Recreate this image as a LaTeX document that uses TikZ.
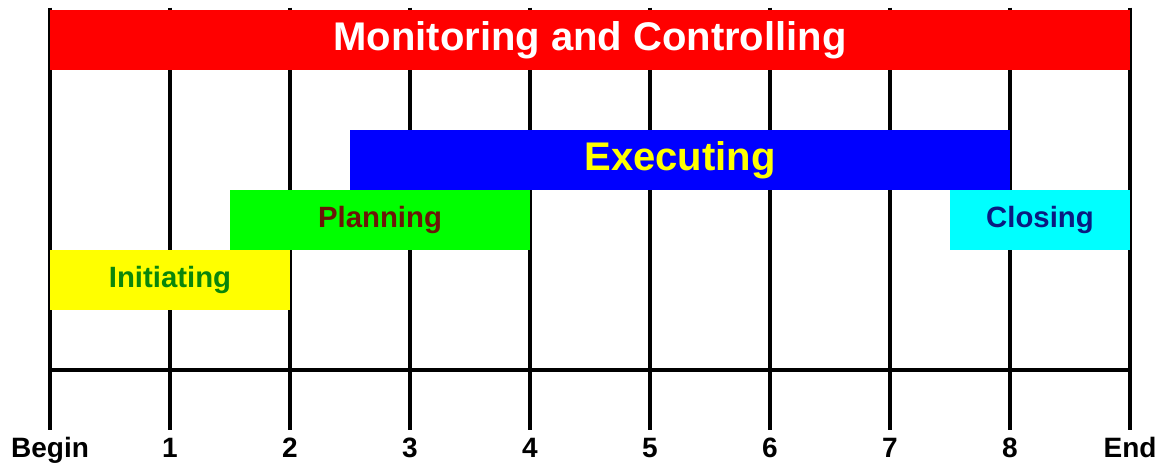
\documentclass[tikz,border=0pt]{standalone}
\usepackage{fontspec}
\setmainfont{Liberation Sans}
\usepackage{xcolor}
\usepackage{tikz}
\usetikzlibrary{positioning}
\definecolor{phaseRed}{HTML}{FF0000}
\definecolor{phaseBlue}{HTML}{0000FF}
\definecolor{phaseGreen}{HTML}{00FF00}
\definecolor{phaseCyan}{HTML}{00FFFF}
\definecolor{phaseYellow}{HTML}{FFFF00}
\definecolor{planInk}{HTML}{6B1608}
\definecolor{initInk}{HTML}{0A860A}
\definecolor{closeInk}{HTML}{0A1A80}
\tikzset{
  phase/.style={
    rectangle,
    inner sep=0pt,
    minimum height=45pt,
    font=\bfseries\fontsize{22}{22}\selectfont
  },
  phaseBig/.style={
    phase,
    font=\bfseries\fontsize{30}{30}\selectfont
  },
  gridline/.style={
    line width=2.5pt,
    draw=black
  },
  ticklabel/.style={
    anchor=base,
    inner sep=0pt,
    font=\bfseries\fontsize{21}{21}\selectfont,
    text=black
  }
}

\begin{document}
\begin{tikzpicture}[x=90pt,y=90pt]
  \useasboundingbox (-0.4167,-0.7917) rectangle (9.3333,3.0833);
  % time grid
  \foreach \i in {0,...,9}
    \draw[gridline] (\i,3.02) -- (\i,-0.5);
  \draw[gridline] (0,0) -- (9,0);
  % phases
  \node[phaseBig,fill=phaseRed,text=white,minimum width=810pt] (monitoring) at (4.5,2.75) {Monitoring and Controlling};
  \node[phaseBig,fill=phaseBlue,text=phaseYellow,minimum width=495pt] (executing) at (5.25,1.75) {Executing};
  \node[phase,fill=phaseGreen,text=planInk,minimum width=225pt] (planning) at (2.75,1.25) {Planning};
  \node[phase,fill=phaseCyan,text=closeInk,minimum width=135pt] (closing) at (8.25,1.25) {Closing};
  \node[phase,fill=phaseYellow,text=initInk,minimum width=180pt] (initiating) at (1,0.75) {Initiating};
  % tick labels
  \node[ticklabel] (tBegin) at (0,-0.725) {Begin};
  \foreach \i in {1,...,8}
    \node[ticklabel] (t\i) at (\i,-0.725) {\i};
  \node[ticklabel] (tEnd) at (9,-0.725) {End};
\end{tikzpicture}
\end{document}
